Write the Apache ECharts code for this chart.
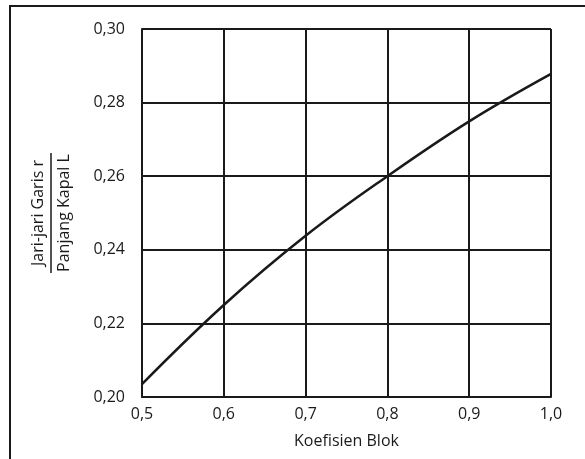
<!DOCTYPE html>
<html>
<head>
<meta charset="utf-8">
<style>
  html, body { margin: 0; padding: 0; background: #fff; }
  .chart { width: 585px; height: 459px; }
</style>
<script src="https://cdn.jsdelivr.net/npm/echarts@6/dist/echarts.min.js"></script>
</head>
<body>
<div class="chart"></div>
<script>
// 数据
var koefBlok = [0.5, 0.6, 0.7, 0.8, 0.9, 1.0];
var rasio    = [0.2035, 0.225, 0.2438, 0.26, 0.2749, 0.2878];
var xTicks = [0.5, 0.6, 0.7, 0.8, 0.9, 1.0];
var yTicks = [0.20, 0.22, 0.24, 0.26, 0.28, 0.30];

(function(){
  var myChart = echarts.init(document.querySelector(".chart"));
  var font = "'Open Sans', 'Noto Sans', sans-serif";
  var ink = '#1a1a1a';

  var points = [];
  for (var i = 0; i < koefBlok.length; i++) {
    points.push([koefBlok[i], rasio[i]]);
  }

  var option = {
    backgroundColor: '#fff',
    animation: false,
    grid: { left: 142, top: 29, width: 409, height: 368 },
    xAxis: {
      type: 'value',
      min: xTicks[0],
      max: xTicks[xTicks.length - 1],
      interval: 0.1,
      name: 'Koefisien Blok',
      nameLocation: 'middle',
      nameGap: 36,
      nameTextStyle: { color: ink, fontSize: 16, fontFamily: font },
      axisLine: { lineStyle: { color: ink, width: 2 } },
      axisTick: { show: false },
      axisLabel: {
        color: ink, fontSize: 16, fontFamily: font, margin: 9,
        formatter: function (v) { return v.toFixed(1).replace('.', ','); }
      },
      splitLine: { show: true, lineStyle: { color: ink, width: 2 } }
    },
    yAxis: {
      type: 'value',
      min: yTicks[0],
      max: yTicks[yTicks.length - 1],
      interval: 0.02,
      axisLine: { show: true, lineStyle: { color: ink, width: 2 } },
      axisTick: { show: false },
      axisLabel: {
        color: ink, fontSize: 16, fontFamily: font, margin: 17,
        formatter: function (v) { return v.toFixed(2).replace('.', ','); }
      },
      splitLine: { show: true, lineStyle: { color: ink, width: 2 } }
    },
    series: [
      {
        type: 'line',
        data: points,
        smooth: 0.4,
        showSymbol: false,
        lineStyle: { color: ink, width: 2.5 }
      }
    ],
    graphic: [
      // 外框 (只见上边和左边)
      {
        type: 'rect',
        shape: { x: 10, y: 6, width: 620, height: 500 },
        style: { fill: null, stroke: ink, lineWidth: 2 },
        silent: true
      },
      // y轴名称：分数
      {
        type: 'group',
        x: 51, y: 213,
        rotation: Math.PI / 2,
        children: [
          {
            type: 'text',
            x: 0, y: -5,
            style: {
              text: 'Jari-jari Garis r', fill: ink, fontSize: 16, fontFamily: font,
              align: 'center', verticalAlign: 'bottom'
            }
          },
          {
            type: 'line',
            shape: { x1: -60, y1: 0, x2: 60, y2: 0 },
            style: { stroke: ink, lineWidth: 1.5 }
          },
          {
            type: 'text',
            x: 0, y: 5,
            style: {
              text: 'Panjang Kapal L', fill: ink, fontSize: 16, fontFamily: font,
              align: 'center', verticalAlign: 'top'
            }
          }
        ]
      }
    ]
  };

  myChart.setOption(option);
  window.addEventListener("resize", function(){
    myChart.resize();
  });
})();
</script>
</body>
</html>
